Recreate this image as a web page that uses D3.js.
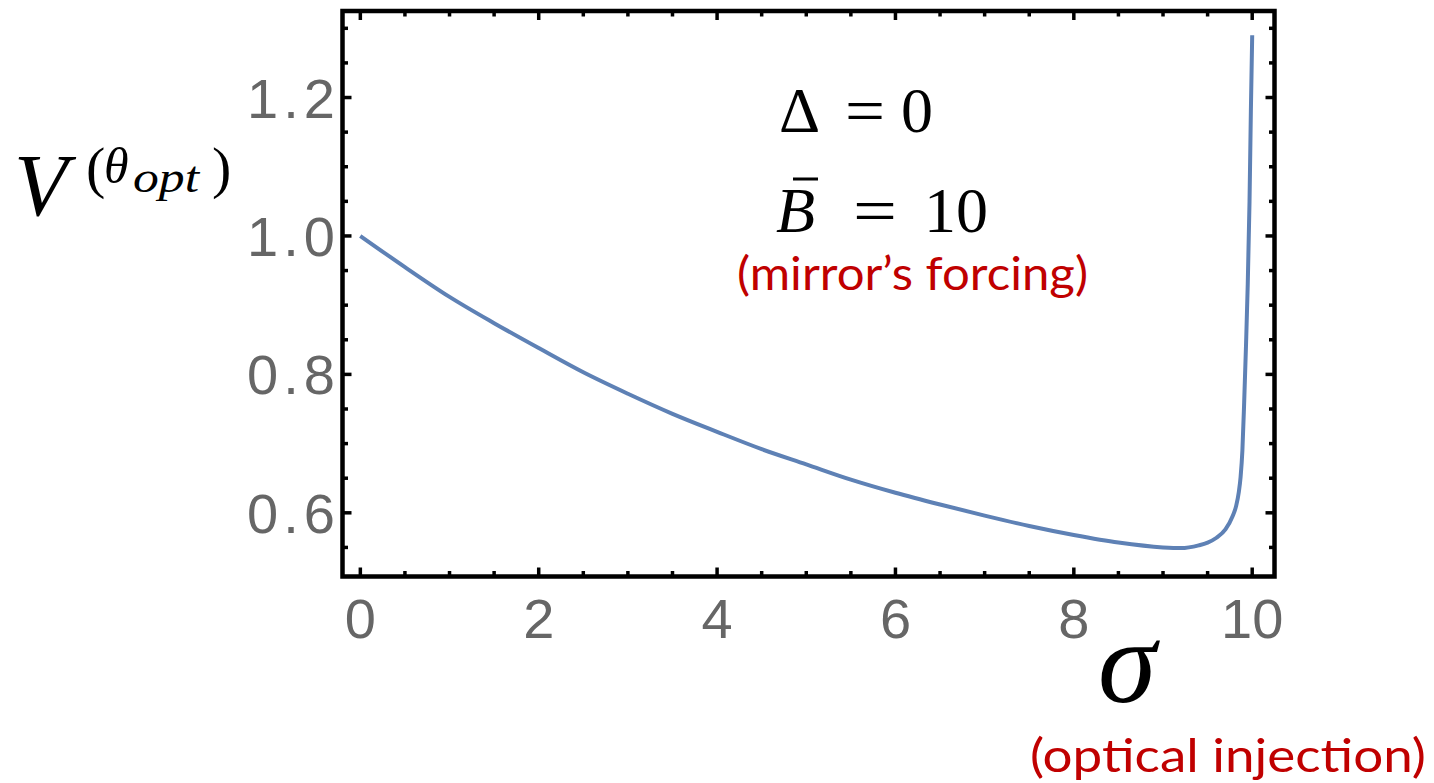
<!DOCTYPE html>
<html>
<head>
<meta charset="utf-8">
<script src="https://cdn.jsdelivr.net/npm/d3@7"></script>
<style>
  html, body { margin: 0; padding: 0; background: #fff; }
  svg { display: block; }
</style>
</head>
<body>
<svg id="chart" width="1434" height="783"></svg>
<script>
// sigma (optical injection) and the optimal-angle variance V
const sigma = [0, 0.5, 1.0, 1.5, 2.0, 2.5, 3.0, 3.5, 4.0, 4.5, 5.0, 5.5, 6.0, 6.5, 7.0, 7.5,
               8.0, 8.5, 9.0, 9.2, 9.4, 9.5, 9.6, 9.7, 9.78, 9.82, 9.85, 9.87, 9.89, 9.91,
               9.93, 9.95, 9.97, 9.985, 10.0];
const variance = [1.000, 0.955, 0.912, 0.874, 0.838, 0.803, 0.772, 0.743, 0.717, 0.692, 0.670, 0.648,
                  0.629, 0.612, 0.596, 0.581, 0.568, 0.557, 0.550, 0.549, 0.553, 0.557, 0.564, 0.576,
                  0.595, 0.610, 0.630, 0.652, 0.690, 0.760, 0.840, 0.930, 1.050, 1.180, 1.290];

const xTicksMajor = [0, 2, 4, 6, 8, 10];
const xTickLabels = ["0", "2", "4", "6", "8", "10"];
const yTicksMajor = [0.6, 0.8, 1.0, 1.2];
const yTickLabels = ["0.6", "0.8", "1.0", "1.2"];
const xDomain = [-0.2, 10.25];
const yDomain = [0.508, 1.325];

const svg = d3.select("#chart");

// frame edges in pixels
const frameL = 342.5, frameR = 1274.5, frameT = 11, frameB = 576.5;

const x = d3.scaleLinear().domain(xDomain).range([frameL, frameR]);
const y = d3.scaleLinear().domain(yDomain).range([frameB, frameT]);

const xMinor = d3.range(0, 10.001, 0.5).filter(v => !xTicksMajor.includes(v));
const yMinor = d3.range(0.55, 1.3001, 0.05).map(v => +v.toFixed(2)).filter(v => !yTicksMajor.some(m => Math.abs(m - v) < 1e-6));

const tickG = svg.append("g").attr("stroke", "#000").attr("stroke-width", 3.5);
const majLen = 9, minLen = 5.5;

// bottom & top ticks
[[xTicksMajor, majLen], [xMinor, minLen]].forEach(([vals, len]) => {
  vals.forEach(v => {
    tickG.append("line").attr("x1", x(v)).attr("x2", x(v)).attr("y1", frameB).attr("y2", frameB - len);
    tickG.append("line").attr("x1", x(v)).attr("x2", x(v)).attr("y1", frameT).attr("y2", frameT + len);
  });
});
// left & right ticks
[[yTicksMajor, majLen], [yMinor, minLen]].forEach(([vals, len]) => {
  vals.forEach(v => {
    tickG.append("line").attr("y1", y(v)).attr("y2", y(v)).attr("x1", frameL).attr("x2", frameL + len);
    tickG.append("line").attr("y1", y(v)).attr("y2", y(v)).attr("x1", frameR).attr("x2", frameR - len);
  });
});

// frame
svg.append("rect")
  .attr("x", frameL).attr("y", frameT)
  .attr("width", frameR - frameL).attr("height", frameB - frameT)
  .attr("fill", "none").attr("stroke", "#000").attr("stroke-width", 4.5);

// curve
const line = d3.line()
  .x((d, i) => x(sigma[i]))
  .y(d => y(d))
  .curve(d3.curveMonotoneX);

svg.append("path")
  .datum(variance)
  .attr("d", line)
  .attr("fill", "none")
  .attr("stroke", "#5E81B5")
  .attr("stroke-width", 4)
  .attr("stroke-linejoin", "round");

// tick labels
const tickFont = "'Liberation Sans', Arial, sans-serif";
svg.append("g").selectAll("text").data(xTicksMajor).join("text")
  .attr("x", d => x(d)).attr("y", 638)
  .attr("text-anchor", "middle")
  .attr("font-family", tickFont).attr("font-size", 56).attr("fill", "#666")
  .text((d, i) => xTickLabels[i]);

svg.append("g").selectAll("text").data(yTicksMajor).join("text")
  .attr("x", 247).attr("y", d => y(d) + 20)
  .attr("font-family", tickFont).attr("font-size", 56).attr("fill", "#666")
  .attr("textLength", 88).attr("lengthAdjust", "spacing")
  .text((d, i) => yTickLabels[i]);

// math labels
const serif = "'Liberation Serif', 'Times New Roman', serif";
const mathTxt = (t, px, py, size, italic) => svg.append("text")
  .attr("x", px).attr("y", py)
  .attr("font-family", serif).attr("font-size", size)
  .attr("font-style", italic ? "italic" : "normal")
  .attr("fill", "#000").text(t);

// V^(θ_opt)
mathTxt("V", 14, 215, 88, true);
mathTxt("(", 86, 187, 58, false);
mathTxt("θ", 104, 183, 50, true);
mathTxt("opt", 133, 192, 44, true).attr("textLength", 66).attr("lengthAdjust", "spacingAndGlyphs");
mathTxt(")", 212, 187, 58, false);

// Δ = 0
mathTxt("Δ", 779, 132, 64, false);
mathTxt("=", 845, 132, 64, false).attr("textLength", 40).attr("lengthAdjust", "spacingAndGlyphs");
mathTxt("0", 901, 132, 64, false);

// B̄ = 10
mathTxt("B", 776, 232, 64, true);
svg.append("line").attr("x1", 793).attr("x2", 818).attr("y1", 179).attr("y2", 179)
  .attr("stroke", "#000").attr("stroke-width", 3);
mathTxt("=", 853, 232, 64, false).attr("textLength", 44).attr("lengthAdjust", "spacingAndGlyphs");
mathTxt("10", 924, 232, 64, false);

// σ axis title
mathTxt("σ", 1098, 702, 118, true);

// annotations
const note = "Lato, 'Open Sans', sans-serif";
svg.append("text").attr("x", 737).attr("y", 290)
  .attr("font-family", note).attr("font-size", 46).attr("fill", "#C00000")
  .attr("textLength", 351).attr("lengthAdjust", "spacingAndGlyphs")
  .text("(mirror’s forcing)");
svg.append("text").attr("x", 1030).attr("y", 772)
  .attr("font-family", note).attr("font-size", 46).attr("fill", "#C00000")
  .attr("textLength", 396).attr("lengthAdjust", "spacingAndGlyphs")
  .text("(optical injection)");
</script>
</body>
</html>
